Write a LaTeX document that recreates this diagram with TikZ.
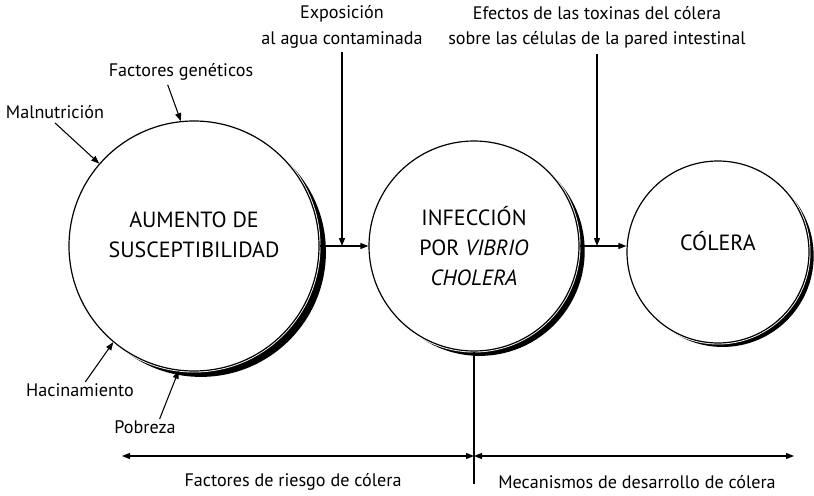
\documentclass[tikz,border=0pt]{standalone}
\usepackage{fontspec}
\setmainfont{PT Sans}
\usetikzlibrary{arrows.meta,shadows}
\tikzset{
  circ/.style={circle, draw=black, line width=0.9pt, fill=white, align=center, inner sep=0pt,
    font=\fontsize{16.5}{22.5}\selectfont,
    drop shadow={shadow xshift=#1, shadow yshift=-0.85*#1, fill=black, opacity=1},
    preaction={draw=white, line width=2.2pt}},
  lbl/.style={align=center, font=\fontsize{13.6}{19}\selectfont, inner sep=1pt},
  arr/.style={-{Triangle[length=6pt, width=4.5pt]}, line width=0.8pt},
  arr2/.style={{Triangle[length=6pt, width=4.5pt]}-{Triangle[length=6pt, width=4.5pt]}, line width=0.8pt},
}
\begin{document}
\begin{tikzpicture}[x=0.75pt, y=-0.75pt]
    \useasboundingbox (0,0) rectangle (814,496);
    \node[circ=5.2pt, minimum size=187.5pt] (sus) at (194,246) {AUMENTO DE\\SUSCEPTIBILIDAD\\[-6pt]};
    \node[circ=4.3pt, minimum size=157.5pt] (inf) at (474,246) {INFECCIÓN\\POR \textit{VIBRIO}\\\textit{CHOLERA}};
    \node[circ=3.5pt, minimum size=136.5pt] (col) at (718,252) {CÓLERA\\[-6pt]};
    \node[lbl] (gen) at (181,72) {Factores genéticos};
    \node[lbl] (mal) at (55,112) {Malnutrición};
    \node[lbl] (hac) at (80,390) {Hacinamiento};
    \node[lbl] (pob) at (145,427) {Pobreza};
    \node[lbl] (exp) at (342,27) {Exposición\\al agua contaminada};
    \node[lbl] (efe) at (597,27) {Efectos de las toxinas del cólera\\sobre las células de la pared intestinal};
    \node[lbl] (rie) at (293,482) {Factores de riesgo de cólera};
    \node[lbl] (mec) at (637,482) {Mecanismos de desarrollo de cólera};
    \coordinate (j1) at (exp.south |- sus.east);
    \coordinate (j2) at (efe.south |- inf.east);
    \coordinate (bl) at (122,456);
    \coordinate (bm) at (474,456);
    \coordinate (br) at (794,456);
    \coordinate (bot) at (474,484);
    \draw[arr] ([xshift=-10pt,yshift=-2pt]gen.south) -- (sus.96);
    \draw[arr] ([yshift=-2pt]mal.south) -- (sus.139);
    \draw[arr] ([xshift=4pt]hac.north) -- (sus.230);
    \draw[arr] ([xshift=11pt]pob.north) -- (sus.263);
    \draw[arr] (sus.east) -- (inf.west);
    \draw[arr] ([yshift=-2pt]exp.south) -- (j1);
    \draw[arr] (inf.east) -- (inf.east -| col.west);
    \draw[arr] ([yshift=-3pt]efe.south) -- (j2);
    \draw[line width=0.8pt] (inf.south) -- (bot);
    \draw[arr2] (bl) -- (bm);
    \draw[arr2] (bm) -- (br);
  \end{tikzpicture}
\end{document}
